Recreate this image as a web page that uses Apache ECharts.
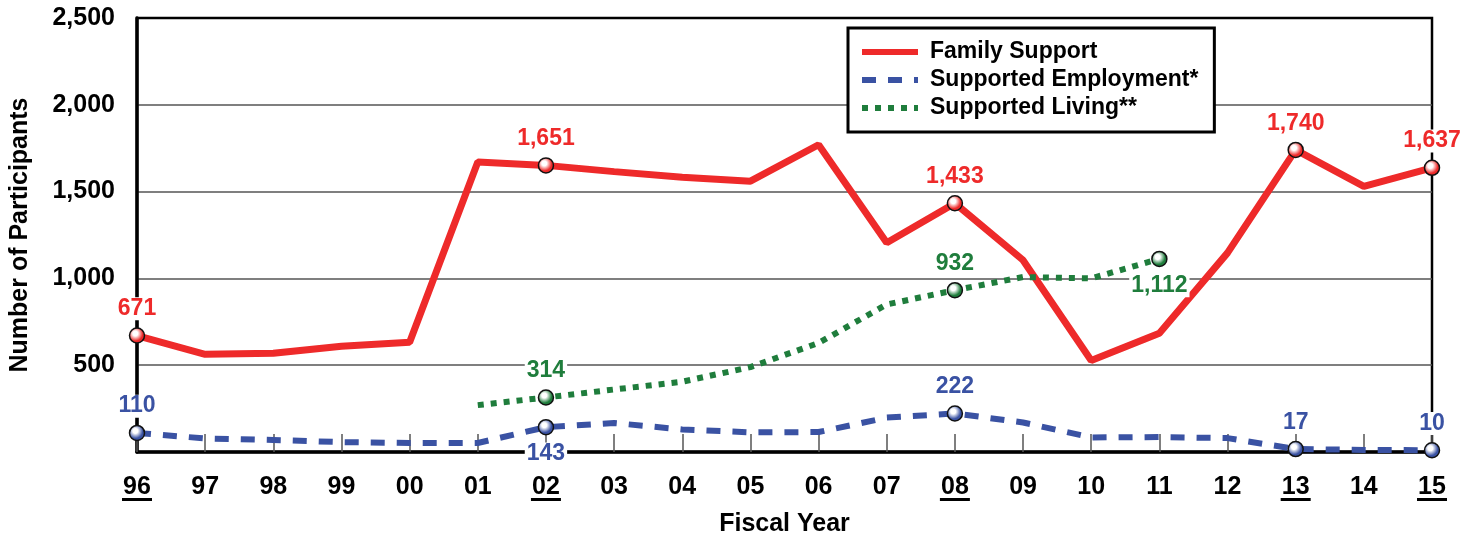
<!DOCTYPE html>
<html>
<head>
<meta charset="utf-8">
<style>
  html, body { margin: 0; padding: 0; background: #fff; }
  #chart { width: 1474px; height: 537px; }
</style>
<script src="https://cdn.jsdelivr.net/npm/echarts@6/dist/echarts.min.js"></script>
</head>
<body>
<div id="chart"></div>
<script>
const years = ['96', '97', '98', '99', '00', '01', '02', '03', '04', '05', '06', '07', '08', '09', '10', '11', '12', '13', '14', '15'];
const underlinedYears = ['96', '02', '08', '13', '15'];

const familySupport = [671, 563, 569, 609, 632, 1670, 1651, 1615, 1583, 1560, 1770, 1205, 1433, 1105, 527, 684, 1147, 1740, 1530, 1637];
const supportedEmployment = [110, 78, 69, 57, 52, 52, 143, 167, 130, 113, 115, 198, 222, 170, 84, 86, 80, 17, 12, 10];
const supportedLiving = [null, null, null, null, null, 270, 314, 360, 405, 489, 628, 850, 932, 1008, 1000, 1112, null, null, null, null];

// which points get a marker + value label, and where the label goes
const familyMarks = [[0, 'top'], [6, 'top'], [12, 'top'], [17, 'top'], [19, 'top']];
const employmentMarks = [[0, 'top'], [6, 'bottom'], [12, 'top'], [17, 'top'], [19, 'top']];
const livingMarks = [[6, 'top'], [12, 'top'], [15, 'bottom']];

const FONT = "'Liberation Sans', Arial, sans-serif";
const RED = '#ee2a2a', BLUE = '#3a52a3', GREEN = '#1f7d3c';

function ball(c) {
    return new echarts.graphic.RadialGradient(0.4, 0.38, 0.6, [
        { offset: 0, color: '#ffffff' },
        { offset: 0.25, color: '#ffffff' },
        { offset: 0.75, color: c },
        { offset: 1, color: c }
    ]);
}

function build(values, marks, c) {
    const pos = {};
    marks.forEach(m => { pos[m[0]] = m[1]; });
    return values.map((v, i) => {
        if (pos[i] === undefined) return v;
        return {
            value: v,
            symbol: 'circle',
            symbolSize: 15,
            itemStyle: { color: ball(c), borderColor: '#111', borderWidth: 1.5 },
            label: {
                show: true,
                position: pos[i],
                distance: 7,
                color: c,
                fontFamily: FONT,
                fontWeight: 'bold',
                fontSize: 23,
                backgroundColor: '#fff',
                padding: [0, 2],
                formatter: p => Number(p.value).toLocaleString('en-US')
            }
        };
    });
}

const chart = echarts.init(document.getElementById('chart'));
chart.setOption({
    animation: false,
    backgroundColor: '#fff',
    grid: {
        left: 137, right: 42, top: 18, bottom: 85,
        outerBoundsMode: 'none',
        containLabel: false,
        show: true, borderColor: '#000', borderWidth: 2.5
    },
    legend: {
        orient: 'vertical',
        left: 848, top: 28,
        backgroundColor: '#fff',
        borderColor: '#000',
        borderWidth: 3,
        padding: [12, 16, 12, 11],
        itemWidth: 56,
        itemHeight: 14,
        itemGap: 4,
        itemStyle: { opacity: 0 },
        lineStyle: { width: 6 },
        textStyle: { fontFamily: FONT, fontWeight: 'bold', fontSize: 23, color: '#000', lineHeight: 24, padding: [0, 0, 0, 7] },
        data: ['Family Support', 'Supported Employment*', 'Supported Living**']
    },
    xAxis: {
        type: 'category',
        data: years,
        boundaryGap: false,
        name: 'Fiscal Year',
        nameLocation: 'middle',
        nameGap: 60,
        nameTextStyle: { fontFamily: FONT, fontWeight: 'bold', fontSize: 25, color: '#000' },
        axisLine: { lineStyle: { color: '#000', width: 3.5 } },
        axisTick: { inside: true, length: 18, lineStyle: { color: '#555', width: 1.5 } },
        axisLabel: {
            margin: 24,
            formatter: v => underlinedYears.indexOf(v) >= 0 ? '{a|' + v + '}\n{u|}' : '{a|' + v + '}',
            rich: {
                a: { fontFamily: FONT, fontWeight: 'bold', fontSize: 25, color: '#000', lineHeight: 22 },
                u: { width: 30, height: 3, backgroundColor: '#000' }
            }
        },
        splitLine: { show: false }
    },
    yAxis: {
        type: 'value',
        min: 0, max: 2500, interval: 500,
        name: 'Number of Participants',
        nameLocation: 'middle',
        nameGap: 104,
        nameTextStyle: { fontFamily: FONT, fontWeight: 'bold', fontSize: 25, color: '#000' },
        axisLine: { show: true, lineStyle: { color: '#000', width: 3.5 } },
        axisTick: { show: false },
        axisLabel: {
            margin: 22,
            fontFamily: FONT, fontWeight: 'bold', fontSize: 25, color: '#000',
            formatter: v => v === 0 ? '' : v.toLocaleString('en-US')
        },
        splitLine: { lineStyle: { color: ['#000', '#555', '#555', '#555', '#555', '#000'], width: 1.5 } }
    },
    series: [
        {
            name: 'Family Support', type: 'line', symbol: 'none', z: 3,
            lineStyle: { color: RED, width: 7 }, itemStyle: { color: RED },
            data: build(familySupport, familyMarks, RED)
        },
        {
            name: 'Supported Employment*', type: 'line', symbol: 'none', z: 3,
            lineStyle: { color: BLUE, width: 6, type: [14, 12] }, itemStyle: { color: BLUE },
            data: build(supportedEmployment, employmentMarks, BLUE)
        },
        {
            name: 'Supported Living**', type: 'line', symbol: 'none', z: 3,
            lineStyle: { color: GREEN, width: 6, type: [6, 7] }, itemStyle: { color: GREEN },
            data: build(supportedLiving, livingMarks, GREEN)
        }
    ]
});
</script>
</body>
</html>
